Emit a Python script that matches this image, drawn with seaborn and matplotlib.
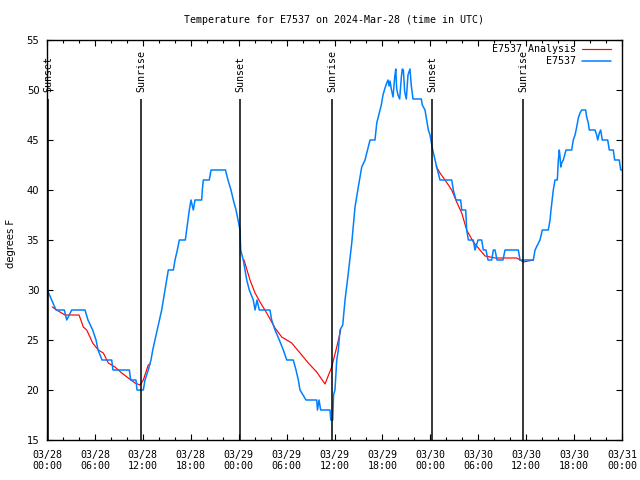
import matplotlib
matplotlib.use("Agg")
import matplotlib.pyplot as plt
import matplotlib.dates as mdates
from matplotlib.lines import Line2D
import seaborn as sns
import pandas as pd
import numpy as np

# DATA  (hours after 2024-03-28 00:00 UTC, degrees F)

blue_hours = [
    0.04, 0.59, 1.13, 2.17, 2.47, 3.09, 4.76, 5.13, 5.72, 6.14,
    6.39, 6.89, 8.10, 8.26, 10.31, 10.48, 11.14, 11.27, 12.06, 12.27,
    12.68, 13.02, 13.24, 14.36, 15.19, 15.82, 16.03, 16.32, 16.57, 17.32,
    17.49, 17.66, 17.82, 18.03, 18.32, 18.53, 19.37, 19.45, 19.57, 20.32,
    20.54, 22.35, 22.66, 23.04, 23.33, 23.67, 23.92, 24.17, 24.25, 24.58,
    24.79, 25.01, 25.33, 25.83, 26.05, 26.30, 26.58, 27.92, 28.13, 28.55,
    29.09, 29.59, 30.02, 30.84, 31.18, 31.47, 31.68, 32.43, 33.77, 33.87,
    34.06, 34.27, 35.44, 35.53, 35.78, 35.88, 36.06, 36.28, 36.48, 36.69,
    37.03, 37.32, 37.73, 38.16, 38.57, 38.98, 39.41, 39.82, 40.45, 41.07,
    41.29, 41.70, 41.86, 42.07, 42.29, 42.49, 42.70, 42.83, 42.95, 43.11,
    43.33, 43.54, 43.67, 43.79, 43.95, 44.16, 44.37, 44.49, 44.62, 44.79,
    44.99, 45.20, 45.33, 45.45, 45.62, 45.83, 46.87, 47.00, 47.33, 47.54,
    47.75, 47.96, 48.30, 48.59, 48.80, 49.21, 50.68, 50.88, 51.21, 51.80,
    51.93, 52.43, 52.55, 52.76, 53.38, 53.59, 53.97, 54.43, 54.63, 54.97,
    55.22, 55.69, 55.89, 56.10, 56.35, 57.10, 57.35, 59.02, 59.23, 60.90,
    61.11, 61.73, 62.02, 62.77, 62.99, 63.11, 63.40, 63.61, 63.90, 64.03,
    64.15, 64.24, 64.33, 64.45, 64.65, 64.99, 65.70, 65.90, 66.12, 66.33,
    66.53, 66.74, 66.95, 67.45, 67.58, 67.78, 67.91, 68.62, 68.83, 68.96,
    69.16, 69.33, 69.53, 70.21, 70.41, 70.91, 71.08, 71.66, 71.84, 72.00,
]
blue_temps = [
    30, 29, 28, 28, 27, 28, 28, 27, 26, 25,
    24, 23, 23, 22, 22, 21, 21, 20, 20, 21,
    22, 23, 24, 28, 32, 32, 33, 34, 35, 35,
    36, 37, 38, 39, 38, 39, 39, 40, 41, 41,
    42, 42, 41, 40, 39, 38, 37, 36, 34, 33,
    32, 31, 30, 29, 28, 29, 28, 28, 27, 26,
    25, 24, 23, 23, 22, 21, 20, 19, 19, 18,
    19, 18, 18, 17, 17, 19.5, 20, 23, 24, 26,
    26.5, 29, 31.7, 34.7, 38.3, 40.3, 42.3, 43, 45, 45,
    46.7, 48, 48.5, 49.5, 50.1, 50.6, 51, 50.4, 50.9, 50.1,
    49.3, 51.3, 52.1, 50.1, 49.5, 49.1, 51.3, 52.1, 52, 49.8,
    49.1, 51.5, 51.8, 52.1, 50.4, 49.1, 49.1, 48.5, 48, 47,
    46, 45.5, 44, 43, 42.3, 41, 41, 40, 39, 39,
    38, 38, 36, 35, 35, 34, 35, 35, 34, 34,
    33, 33, 34, 34, 33, 33, 34, 34, 33, 33,
    34, 35, 36, 36, 37, 38, 40, 41, 41, 43,
    44, 43.3, 42.3, 42.7, 43, 44, 44, 45, 45.5, 46.3,
    47.2, 47.7, 48, 48, 47.3, 46.7, 46, 46, 45.5, 45,
    45.7, 46, 45, 45, 44, 44, 43, 43, 42, 42,
]

# analysis comes in three separate night-time pieces
red_hours_1 = [0.66, 1.21, 2.25, 4.01, 4.55, 4.97, 5.38, 5.72, 6.42, 7.05,
               7.68, 8.51, 9.35, 10.18, 11.02, 11.65, 12.06, 12.68, 12.90]
red_temps_1 = [28.3, 28, 27.5, 27.5, 26.3, 26, 25.3, 24.7, 24, 23.7,
               22.7, 22.3, 21.7, 21.2, 20.7, 20.5, 21, 22.5, 22.6]
red_hours_2 = [24.67, 25.42, 26.05, 26.67, 27.51, 28.55, 29.39, 30.64,
               31.68, 32.72, 33.77, 34.81, 35.65, 36.28, 36.78]
red_temps_2 = [33, 31, 29.7, 28.8, 27.7, 26.2, 25.3, 24.7,
               23.7, 22.7, 21.8, 20.6, 22.3, 24.3, 26]
red_hours_3 = [48.71, 49.21, 49.84, 50.68, 51.30, 51.93, 52.55, 53.38,
               54.01, 54.85, 56.10, 58.82, 59.64, 60.90]
red_temps_3 = [42.4, 41.7, 41, 40, 38.8, 37.7, 36, 34.8,
               34.2, 33.4, 33.2, 33.2, 32.8, 33]

sun_hours = [0.125, 11.77, 24.17, 35.69, 48.21, 59.6]
sun_labels = ["Sunset", "Sunrise", "Sunset", "Sunrise", "Sunset", "Sunrise"]

# FRAMES

start = pd.Timestamp("2024-03-28 00:00")


def to_time(hours):
    return start + pd.to_timedelta(np.array(hours, dtype=float), unit="h")


blue_df = pd.DataFrame({"time": to_time(blue_hours), "temp": blue_temps})
red_df = pd.DataFrame({
    "time": to_time(red_hours_1 + red_hours_2 + red_hours_3),
    "temp": red_temps_1 + red_temps_2 + red_temps_3,
    "seg": [0] * len(red_hours_1) + [1] * len(red_hours_2) + [2] * len(red_hours_3),
})

# STYLE

sns.set_style("ticks")
plt.rcParams['font.family'] = ['DejaVu Sans Mono', 'DejaVu Sans']
plt.rcParams['font.size'] = 7.2
plt.rcParams['text.color'] = 'black'
plt.rcParams['xtick.color'] = 'black'
plt.rcParams['ytick.color'] = 'black'
plt.rcParams['axes.edgecolor'] = 'black'

RED = "#ff0000"
BLUE = "#0080ff"

fig = plt.figure(figsize=(6.4, 4.8), dpi=100)
ax = fig.add_axes([47 / 640, 40 / 480, 575 / 640, 400 / 480])

# DRAW

sns.lineplot(data=red_df, x="time", y="temp", units="seg", estimator=None,
             color=RED, linewidth=0.85, ax=ax)
sns.lineplot(data=blue_df, x="time", y="temp", estimator=None,
             color=BLUE, linewidth=1.1, ax=ax)

sun_times = to_time(sun_hours)
ax.vlines(sun_times, 15, 49.1, color="black", linewidth=1.1)
for t, lab in zip(sun_times, sun_labels):
    ax.text(t, 49.8, lab, rotation=90, ha="center", va="bottom", fontsize=7.2)

# AXES

ax.set_xlim(start, start + pd.Timedelta(days=3))
ax.set_ylim(15, 55)
ax.set_yticks(range(15, 56, 5))
ax.xaxis.set_major_locator(mdates.HourLocator(byhour=[0, 6, 12, 18]))
ax.xaxis.set_minor_locator(mdates.HourLocator(byhour=range(0, 24, 2)))
ax.xaxis.set_major_formatter(mdates.DateFormatter("%m/%d\n%H:%M"))
ax.tick_params(which="both", direction="in", top=True, right=True, width=0.8)
ax.tick_params(which="major", length=4.5)
ax.tick_params(which="minor", length=2.3)
ax.tick_params(axis="x", which="major", pad=7)
ax.tick_params(axis="y", which="major", pad=5.5)
for lab in ax.get_yticklabels():
    lab.set_family(['DejaVu Sans'])
ax.set_xlabel("")
ax.set_ylabel("")
for sp in ax.spines.values():
    sp.set_linewidth(1.0)
    sp.set_color("black")

fig.text(334.5 / 640, 1 - 20 / 480, "Temperature for E7537 on 2024-Mar-28 (time in UTC)",
         ha="center", va="center", fontsize=7.2)
fig.text(11 / 640, 1 - 243 / 480, "degrees F", rotation=90, ha="center", va="center",
         fontsize=7.2, family=['DejaVu Sans'])

handles = [Line2D([], [], color=RED, linewidth=0.85),
           Line2D([], [], color=BLUE, linewidth=1.1)]
ax.legend(handles, ["E7537 Analysis", "E7537"], loc="upper right",
          bbox_to_anchor=(611 / 640, 1 - 44 / 480), bbox_transform=fig.transFigure,
          frameon=False, markerfirst=False, borderpad=0, borderaxespad=0,
          handlelength=2.9, handletextpad=0.6, labelspacing=0.25, fontsize=7.2)

fig.savefig("out.png", dpi=100)
